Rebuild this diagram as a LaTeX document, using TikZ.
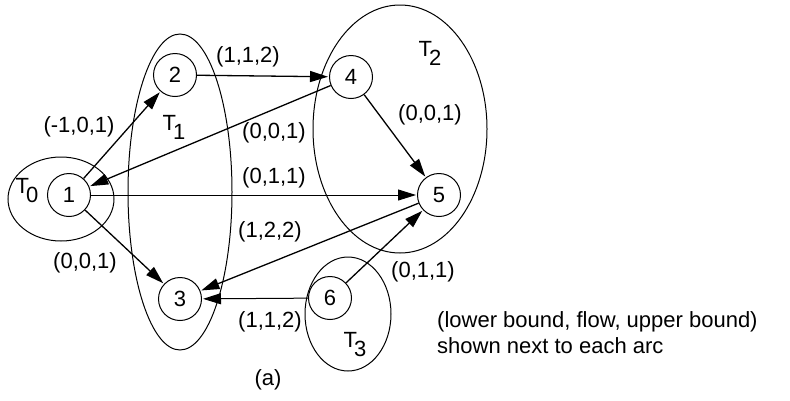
\documentclass[tikz,border=0pt]{standalone}
\usepackage{fontspec}
\setmainfont{Liberation Sans}
\usetikzlibrary{arrows.meta}
\begin{document}
\begin{tikzpicture}[x=1pt,y=-1pt,
  every node/.style={font=\fontsize{22}{26}\selectfont},
  vert/.style={circle,draw,line width=1pt,minimum size=43pt,inner sep=0pt},
  grp/.style={draw,line width=1pt},
  arc/.style={draw,line width=1.3pt,-{Triangle[length=18pt,width=11pt]},shorten >=1pt},
  lab/.style={inner sep=0pt}]
\useasboundingbox (0,0) rectangle (790,400);
% groups
\draw[grp] (61,199) ellipse [x radius=53, y radius=42];
\draw[grp] (180,192) ellipse [x radius=52, y radius=158];
\draw[grp] (400,129) ellipse [x radius=87, y radius=124];
\draw[grp] (348,314) ellipse [x radius=43, y radius=57];
% vertices
\node[vert] (n1) at (69,195) {1};
\node[vert] (n2) at (175,75) {2};
\node[vert] (n4) at (351,77) {4};
\node[vert] (n5) at (439,195) {5};
\node[vert] (n3) at (180,299) {3};
\node[vert] (n6) at (330,298) {6};
% arcs
\draw[arc] (n1) -- (n2);
\draw[arc] (n2) -- (n4);
\draw[arc] (n4) -- (n1);
\draw[arc] (n4) -- (n5);
\draw[arc,line width=1pt] (n1) -- (n5);
\draw[arc] (n5) -- (n3);
\draw[arc] (n1) -- (n3);
\draw[arc,line width=1pt] (n6) -- (n3);
\draw[arc] (n6) -- (n5);
% arc labels
\node[lab] (l12) at (79,127) {(-1,0,1)};
\node[lab] (l24) at (248,57) {(1,1,2)};
\node[lab] (l41) at (274,133) {(0,0,1)};
\node[lab] (l15) at (274,178) {(0,1,1)};
\node[lab] (l45) at (430,115) {(0,0,1)};
\node[lab] (l53) at (270,232) {(1,2,2)};
\node[lab] (l13) at (85,263) {(0,0,1)};
\node[lab] (l63) at (270,322) {(1,1,2)};
\node[lab] (l65) at (423,272) {(0,1,1)};
% group labels
\node[lab] (t0) at (27,191) {T\kern-3pt\raisebox{-9pt}{0}};
\node[lab] (t1) at (174,127) {T\kern-3pt\raisebox{-9pt}{1}};
\node[lab] (t2) at (430,53) {T\kern-3pt\raisebox{-9pt}{2}};
\node[lab] (t3) at (355,345) {T\kern-3pt\raisebox{-9pt}{3}};
% legend
\node[lab,anchor=west,align=left] (leg) at (437,333) {(lower bound, flow, upper bound)\\shown next to each arc};
\node[lab] (cap) at (268,380) {(a)};
\end{tikzpicture}
\end{document}
